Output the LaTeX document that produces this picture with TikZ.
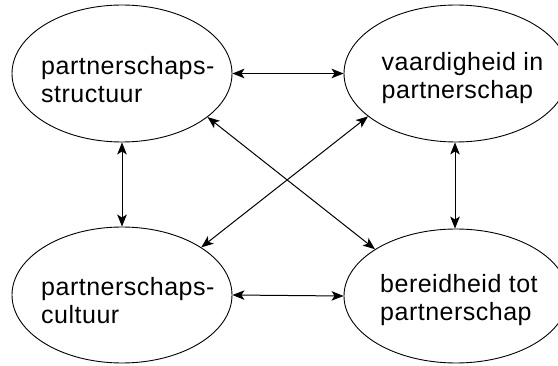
\documentclass[tikz,border=0pt]{standalone}
\usepackage{fontspec}
\setmainfont{Liberation Sans}[LetterSpace=2]
\usetikzlibrary{arrows.meta,shapes.geometric}
\begin{document}
\begin{tikzpicture}[x=1pt,y=1pt,
  bubble/.style={draw, line width=0.9pt, ellipse, inner sep=0pt},
  lbl/.style={anchor=base west, align=left, inner sep=0pt,
    font=\fontsize{25}{28}\selectfont},
  link/.style={line width=1pt, {Stealth[length=12pt,width=9.5pt,inset=3pt]}-{Stealth[length=12pt,width=9.5pt,inset=3pt]}}]
  \useasboundingbox (0,0) rectangle (558,365);
  % the four ellipses
  \node[bubble, minimum width=220pt, minimum height=137pt] (TL) at (122,291.5) {};
  \node[bubble, minimum width=224pt, minimum height=137pt] (TR) at (456,291.5) {};
  \node[bubble, minimum width=220pt, minimum height=136pt] (BL) at (122,70) {};
  \node[bubble, minimum width=224pt, minimum height=134pt] (BR) at (456,69) {};
  % their texts (anchored on the baseline of the second line)
  \node[lbl] (tTL) at (41,262.5) {partnerschaps-\\structuur};
  \node[lbl] (tTR) at (381.5,266) {vaardigheid in\\partnerschap};
  \node[lbl] (tBL) at (41,42) {partnerschaps-\\cultuur};
  \node[lbl] (tBR) at (380,45) {bereidheid tot\\partnerschap};
  % two-way links
  \draw[link] (TL.east) -- (TR.west);
  \draw[link] (BL.east) -- (BR.west);
  \draw[link] (TL.south) -- (BL.north);
  \draw[link] ([xshift=-1pt]TR.south) -- ([xshift=-1pt]BR.north);
  \draw[link] (TL.-27.6) -- (BR.150.4);
  \draw[link] (TR.206.3) -- (BL.31.6);
\end{tikzpicture}
\end{document}
